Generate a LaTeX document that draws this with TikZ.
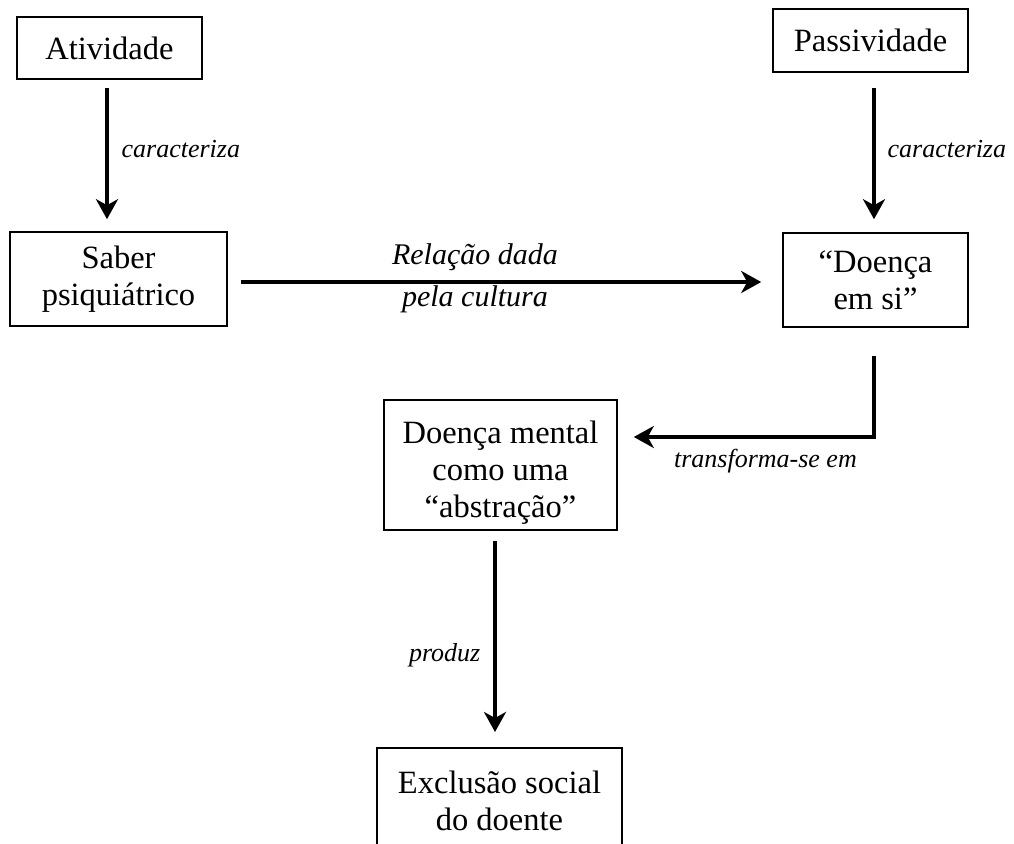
\documentclass[tikz,border=0pt]{standalone}
\usepackage{fontspec}
\setmainfont{Liberation Serif}
\usetikzlibrary{arrows.meta,calc}
\begin{document}
\begin{tikzpicture}[x=1pt,y=-1pt,
  box/.style={draw, line width=1.6pt, inner sep=0pt, align=center, font=\fontsize{32.5}{37}\selectfont},
  boxtext/.style={inner sep=0pt, align=center, font=\fontsize{32.5}{37}\selectfont},
  arr/.style={line width=3.3pt, -{Stealth[length=20pt,width=22pt,inset=6pt]}},
  lbl/.style={font=\fontsize{26}{30}\selectfont\itshape, inner sep=0pt},
  lblbig/.style={font=\fontsize{30}{36}\selectfont\itshape, inner sep=0pt}]
\useasboundingbox (0,0) rectangle (1014,843);
\node[box, minimum width=185pt, minimum height=62pt] (ativ) at (109.5,48) {Atividade};
\node[box, minimum width=195pt, minimum height=63pt] (passiv) at (870.5,40.5) {Passividade};
\node[box, minimum width=217pt, minimum height=94pt] (saber) at (118.5,279) {Saber\\psiquiátrico};
\node[box, minimum width=185pt, minimum height=94pt] (dsi) at (875.5,280) {``Doença\\em si''};
\node[box, minimum width=233pt, minimum height=130pt] (mental) at (500.5,465) {\rule{0pt}{38pt}Doença mental\\como uma\\``abstração''};
\node[draw, line width=1.6pt, minimum width=245pt, minimum height=130pt, anchor=north] (excl) at (499.5,747) {};
\node[boxtext] (excltext) at (499.5,801) {Exclusão social\\do doente};

\draw[arr] ($(ativ.south)+(-2.5,8)$) -- ($(ativ.south |- saber.north)+(-2.5,-12)$)
  node[lbl, midway, anchor=west, xshift=13pt, yshift=4pt] {caracteriza};
\draw[arr] ($(passiv.south)+(3.5,15)$) -- ($(passiv.south |- dsi.north)+(3.5,-13)$)
  node[lbl, midway, anchor=west, xshift=12pt, yshift=4pt] {caracteriza};
\draw[arr] ($(saber.east)+(13,3)$) -- ($(dsi.west)+(-21,2)$)
  node[lblbig, pos=0.45, anchor=base, yshift=18pt] {Relação dada}
  node[lblbig, pos=0.45, anchor=base, yshift=-24pt] {pela cultura};
\draw[arr] ($(dsi.south)+(-1.5,28)$) |- ($(mental.east)+(16,-28)$)
  node[lbl, pos=0.726, anchor=base, yshift=-30pt] {transforma-se em};
\draw[arr] ($(mental.south)+(-5.5,10)$) -- ($(excl.north)+(-4.5,-15)$)
  node[lbl, pos=0.6, anchor=east, xshift=-13pt] {produz};
\end{tikzpicture}
\end{document}
